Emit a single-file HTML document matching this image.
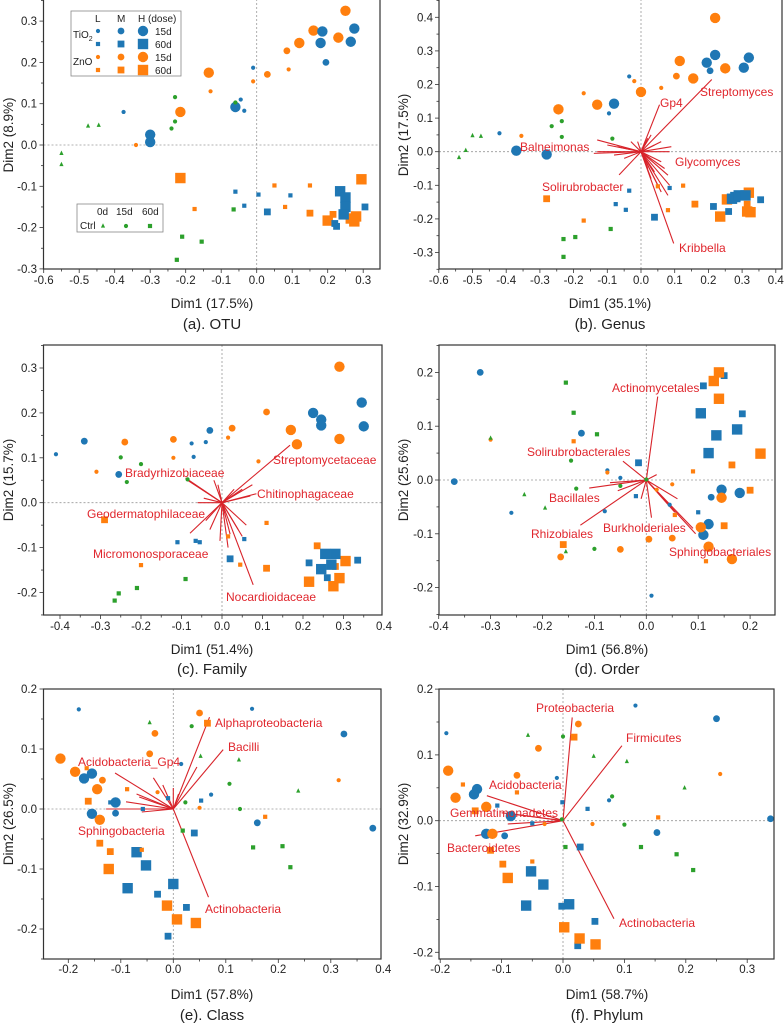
<!DOCTYPE html>
<html><head><meta charset="utf-8"><style>
html,body{margin:0;padding:0;background:#fff}
svg{display:block}
text{font-family:"Liberation Sans",sans-serif}
.tk{font-size:11.5px;fill:#222}
.ax{font-size:13.5px;fill:#222}
.ti{font-size:15px;fill:#222}
.lb{font-size:12px;fill:#e0262d}
.lg{font-size:10px;fill:#222}
</style></head><body>
<svg id="s" width="784" height="1024" viewBox="0 0 784 1024" xmlns="http://www.w3.org/2000/svg">
<g id="dyn"></g>
<!-- panel a -->
<g class="tk" text-anchor="middle">
<text x="43.7" y="284">-0.6</text><text x="79.2" y="284">-0.5</text><text x="114.7" y="284">-0.4</text><text x="150.2" y="284">-0.3</text><text x="185.7" y="284">-0.2</text><text x="221.2" y="284">-0.1</text><text x="256.7" y="284">0.0</text><text x="292.2" y="284">0.1</text><text x="327.7" y="284">0.2</text><text x="363.2" y="284">0.3</text>
<text x="438.8" y="284">-0.6</text><text x="472.5" y="284">-0.5</text><text x="506.2" y="284">-0.4</text><text x="539.9" y="284">-0.3</text><text x="573.6" y="284">-0.2</text><text x="607.3" y="284">-0.1</text><text x="641" y="284">0.0</text><text x="674.7" y="284">0.1</text><text x="708.4" y="284">0.2</text><text x="742.1" y="284">0.3</text><text x="775.8" y="284">0.4</text>
<text x="60" y="630">-0.4</text><text x="100.5" y="630">-0.3</text><text x="141" y="630">-0.2</text><text x="181.5" y="630">-0.1</text><text x="222" y="630">0.0</text><text x="262.5" y="630">0.1</text><text x="303" y="630">0.2</text><text x="343.5" y="630">0.3</text><text x="384" y="630">0.4</text>
<text x="438.7" y="630">-0.4</text><text x="490.6" y="630">-0.3</text><text x="542.5" y="630">-0.2</text><text x="594.4" y="630">-0.1</text><text x="646.3" y="630">0.0</text><text x="698.2" y="630">0.1</text><text x="750.1" y="630">0.2</text>
<text x="68.3" y="973">-0.2</text><text x="120.8" y="973">-0.1</text><text x="173.3" y="973">0.0</text><text x="225.8" y="973">0.1</text><text x="278.3" y="973">0.2</text><text x="330.8" y="973">0.3</text><text x="383.3" y="973">0.4</text>
<text x="440.2" y="973">-0.2</text><text x="501.6" y="973">-0.1</text><text x="563" y="973">0.0</text><text x="624.4" y="973">0.1</text><text x="685.8" y="973">0.2</text><text x="747.2" y="973">0.3</text>
</g>
<g class="tk" text-anchor="end">
<text x="37" y="25">0.3</text><text x="37" y="66.4">0.2</text><text x="37" y="107.7">0.1</text><text x="37" y="149">0.0</text><text x="37" y="190.3">-0.1</text><text x="37" y="231.6">-0.2</text><text x="37" y="273">-0.3</text>
<text x="433" y="21.3">0.4</text><text x="433" y="54.9">0.3</text><text x="433" y="88.5">0.2</text><text x="433" y="122.1">0.1</text><text x="433" y="155.7">0.0</text><text x="433" y="189.3">-0.1</text><text x="433" y="222.9">-0.2</text><text x="433" y="256.5">-0.3</text>
<text x="37" y="372">0.3</text><text x="37" y="416.9">0.2</text><text x="37" y="461.8">0.1</text><text x="37" y="506.7">0.0</text><text x="37" y="551.6">-0.1</text><text x="37" y="596.5">-0.2</text>
<text x="433" y="376.4">0.2</text><text x="433" y="430.2">0.1</text><text x="433" y="484">0.0</text><text x="433" y="537.8">-0.1</text><text x="433" y="591.6">-0.2</text>
<text x="37" y="693">0.2</text><text x="37" y="753">0.1</text><text x="37" y="813">0.0</text><text x="37" y="873">-0.1</text><text x="37" y="933">-0.2</text>
<text x="433" y="693.1">0.2</text><text x="433" y="758.9">0.1</text><text x="433" y="824.7">0.0</text><text x="433" y="890.5">-0.1</text><text x="433" y="956.3">-0.2</text>
</g>
<g class="ax" text-anchor="middle">
<text x="212" y="308">Dim1 (17.5%)</text><text x="610" y="308">Dim1 (35.1%)</text>
<text x="212" y="654">Dim1 (51.4%)</text><text x="607" y="654">Dim1 (56.8%)</text>
<text x="212" y="999">Dim1 (57.8%)</text><text x="607" y="999">Dim1 (58.7%)</text>
<text transform="translate(13,135) rotate(-90)">Dim2 (8.9%)</text>
<text transform="translate(408,135) rotate(-90)">Dim2 (17.5%)</text>
<text transform="translate(13,480) rotate(-90)">Dim2 (15.7%)</text>
<text transform="translate(408,480) rotate(-90)">Dim2 (25.6%)</text>
<text transform="translate(13,824) rotate(-90)">Dim2 (26.5%)</text>
<text transform="translate(408,824) rotate(-90)">Dim2 (32.9%)</text>
</g>
<g class="ti" text-anchor="middle">
<text x="212" y="329">(a). OTU</text><text x="610" y="329">(b). Genus</text>
<text x="212" y="674">(c). Family</text><text x="607" y="674">(d). Order</text>
<text x="212" y="1020">(e). Class</text><text x="607" y="1020">(f). Phylum</text>
</g>
<g class="lb">
<text x="700" y="96">Streptomyces</text><text x="660" y="107">Gp4</text><text x="520" y="151">Balneimonas</text><text x="675" y="166">Glycomyces</text><text x="542" y="191">Solirubrobacter</text><text x="679" y="252">Kribbella</text>
<text x="273" y="464">Streptomycetaceae</text><text x="125" y="477">Bradyrhizobiaceae</text><text x="257" y="498">Chitinophagaceae</text><text x="87" y="518">Geodermatophilaceae</text><text x="93" y="558">Micromonosporaceae</text><text x="226" y="601">Nocardioidaceae</text>
<text x="612" y="392">Actinomycetales</text><text x="527" y="456">Solirubrobacterales</text><text x="549" y="502">Bacillales</text><text x="531" y="538">Rhizobiales</text><text x="603" y="532">Burkholderiales</text><text x="669" y="556">Sphingobacteriales</text>
<text x="215" y="727">Alphaproteobacteria</text><text x="228" y="751">Bacilli</text><text x="78" y="766">Acidobacteria_Gp4</text><text x="78" y="835">Sphingobacteria</text><text x="205" y="913">Actinobacteria</text>
<text x="536" y="712">Proteobacteria</text><text x="626" y="742">Firmicutes</text><text x="489" y="789">Acidobacteria</text><text x="450" y="817">Gemmatimonadetes</text><text x="447" y="852">Bacteroidetes</text><text x="619" y="927">Actinobacteria</text>
</g>
<rect x="71" y="11" width="110" height="65" fill="#fff" stroke="#888" stroke-width="0.8"/>
<g class="lg">
<text x="95" y="22">L</text><text x="117" y="22">M</text><text x="138" y="22">H (dose)</text>
<text x="73" y="38">TiO<tspan font-size="7" dy="3">2</tspan></text><text x="73" y="65">ZnO</text>
<text x="155" y="35">15d</text><text x="155" y="48">60d</text><text x="155" y="61">15d</text><text x="155" y="74">60d</text>
</g>
<rect x="77" y="204" width="86" height="28" fill="#fff" stroke="#888" stroke-width="0.8"/>
<g class="lg"><text x="97" y="215">0d</text><text x="116" y="215">15d</text><text x="142" y="215">60d</text><text x="80" y="229">Ctrl</text></g>
<g id="leg"></g>
</svg>
<script>
(function(){
var NS="http://www.w3.org/2000/svg",g=document.getElementById('dyn');
function el(t,a,p){var e=document.createElementNS(NS,t);for(var k in a)e.setAttribute(k,a[k]);(p||g).appendChild(e);return e;}
var C={b:'#1f77b4',o:'#ff7f0e',g:'#2ca02c'};
var R=[0,2.1,3.4,5.2];
function mk(px,py,t,p){var c=C[t[0]],s=t[1],r=R[+t[2]];
 if(s=='c')el('circle',{cx:px,cy:py,r:r,fill:c},p);
 else if(s=='s')el('rect',{x:px-r,y:py-r,width:2*r,height:2*r,fill:c},p);
 else el('polygon',{points:(px)+','+(py-r-0.6)+' '+(px-r)+','+(py+r*0.8)+' '+(px+r)+','+(py+r*0.8),fill:c},p);}
function panel(P){
 var X=function(v){return P.x0+v*P.sx},Y=function(v){return P.y0-v*P.sy};
 // zero lines
 el('line',{x1:P.L,x2:P.R,y1:P.y0,y2:P.y0,stroke:'#999','stroke-dasharray':'2,2','stroke-width':0.8});
 el('line',{x1:P.x0,x2:P.x0,y1:P.T,y2:P.B,stroke:'#999','stroke-dasharray':'2,2','stroke-width':0.8});
 // ticks
 var i,v;
 for(i=-20;i<=20;i++){v=i*0.05;var px=X(v);if(px<P.L-0.5||px>P.R+0.5)continue;var maj=(i%2==0);
  el('line',{x1:px,x2:px,y1:P.B,y2:P.B+(maj?4:2.5),stroke:'#333','stroke-width':0.8});}
 for(i=-20;i<=20;i++){v=i*0.05;var py=Y(v);if(py<P.T-0.5||py>P.B+0.5)continue;var maj=(i%2==0);
  el('line',{x1:P.L,x2:P.L-(maj?4:2.5),y1:py,y2:py,stroke:'#333','stroke-width':0.8});}
 // arrows
 (P.ar||[]).forEach(function(a){el('line',{x1:P.x0,y1:P.y0,x2:X(a[0]),y2:Y(a[1]),stroke:'#d8232a','stroke-width':1.1});});
 P.pts.forEach(function(p){mk(X(p[0]),Y(p[1]),p[2]);});
 el('rect',{x:P.L,y:P.T,width:P.R-P.L,height:P.B-P.T,fill:'none',stroke:'#333','stroke-width':1.2});
}
function pts(s){return s.trim().split(/\s+/).map(function(q){var a=q.split(',');return [+a[0],+a[1],a[2]];});}
function ars(s){return s.trim().split(/\s+/).map(function(q){var a=q.split(',');return [+a[0],+a[1]];});}
panel({L:43.5,R:380,T:-1,B:269,x0:256.7,sx:355,y0:145,sy:413,pts:pts(
"0.25,0.325,oc3 0.16,0.277,oc3 0.12,0.247,oc3 0.23,0.26,oc3 -0.135,0.175,oc3 0.03,0.171,oc2 -0.215,0.08,oc3 0.085,0.228,oc2 0.09,0.183,oc1 -0.01,0.154,oc1 -0.13,0.13,oc1 -0.34,0.0,oc1 "+
"0.185,0.275,bc3 0.18,0.247,bc3 0.275,0.282,bc3 0.265,0.25,bc3 0.195,0.2,bc2 -0.06,0.092,bc3 -0.3,0.025,bc3 -0.3,0.007,bc3 -0.375,0.08,bc1 -0.045,0.11,bc1 -0.035,0.083,bc1 -0.01,0.187,bc1 "+
"-0.23,0.116,gc1 -0.23,0.057,gc1 -0.24,0.04,gc1 -0.06,0.103,gc1 -0.475,0.046,gt1 -0.445,0.048,gt1 -0.55,-0.02,gt1 -0.55,-0.047,gt1 "+
"-0.215,-0.08,os3 0.295,-0.083,os3 0.2,-0.183,os3 0.265,-0.178,os3 0.28,-0.173,os3 0.275,-0.185,os3 0.15,-0.165,os2 0.215,-0.168,os2 -0.175,-0.155,os1 0.05,-0.098,os1 0.15,-0.098,os1 0.08,-0.15,os1 "+
"0.235,-0.112,bs3 0.25,-0.127,bs3 0.25,-0.15,bs3 0.245,-0.168,bs3 0.22,-0.19,bs2 0.225,-0.197,bs2 0.305,-0.15,bs2 0.03,-0.162,bs2 -0.06,-0.113,bs1 0.005,-0.12,bs1 0.095,-0.122,bs1 -0.035,-0.147,bs1 "+
"-0.065,-0.156,gs1 -0.21,-0.222,gs1 -0.155,-0.234,gs1 -0.225,-0.278,gs1")});
panel({L:439,R:782,T:-1,B:269,x0:641,sx:337,y0:151.7,sy:336,ar:ars(
"0.21,0.215 0.055,0.14 -0.13,0.035 -0.13,0.0 -0.14,-0.005 -0.065,-0.069 0.09,0.015 0.085,0.0 0.097,-0.273 0.08,-0.07 0.08,-0.13 0.085,-0.1 0.05,-0.1 0.06,-0.12 0.02,0.04 0.03,0.05 -0.01,0.03 -0.03,0.03 0.06,-0.03 0.04,-0.06 0.04,0.02 -0.07,0.015 -0.05,-0.02 0.03,-0.08 0.06,0.03 -0.1,0.02 -0.08,-0.01 0.02,-0.05 0.07,-0.05"),pts:pts(
"0.22,0.398,oc3 0.115,0.27,oc3 0.155,0.218,oc3 0.25,0.248,oc3 -0.245,0.126,oc3 -0.13,0.14,oc3 0.0,0.178,oc3 0.105,0.225,oc2 -0.17,0.174,oc1 -0.02,0.21,oc1 0.06,0.19,oc1 -0.355,0.047,oc1 "+
"0.195,0.265,bc3 0.22,0.288,bc3 0.32,0.28,bc3 0.305,0.25,bc3 -0.37,0.003,bc3 -0.28,-0.008,bc3 -0.08,0.143,bc3 0.205,0.241,bc2 -0.035,0.224,bc1 -0.095,0.114,bc1 -0.42,0.055,bc1 -0.075,0.139,bc1 "+
"-0.265,0.076,gc1 -0.235,0.091,gc1 -0.235,0.044,gc1 -0.085,0.039,gc1 -0.5,0.048,gt1 -0.475,0.046,gt1 -0.52,0.004,gt1 -0.54,-0.017,gt1 "+
"-0.28,-0.14,os2 0.16,-0.156,os2 0.235,-0.193,os3 0.255,-0.142,os3 0.32,-0.122,os3 0.315,-0.178,os3 0.325,-0.18,os3 0.315,-0.156,os2 0.05,-0.103,os1 0.125,-0.101,os1 0.08,-0.174,os1 -0.17,-0.205,os1 "+
"0.27,-0.14,bs3 0.28,-0.135,bs3 0.29,-0.13,bs3 0.31,-0.13,bs3 0.355,-0.143,bs2 0.215,-0.163,bs2 0.26,-0.178,bs2 0.04,-0.195,bs2 -0.035,-0.116,bs1 -0.075,-0.156,bs1 -0.045,-0.173,bs1 0.085,-0.108,bs1 "+
"-0.23,-0.26,gs1 -0.195,-0.254,gs1 -0.09,-0.23,gs1 -0.23,-0.313,gs1")});
panel({L:43.5,R:382,T:345,B:615,x0:222,sx:405,y0:502.7,sy:449,ar:ars(
"0.168,0.128 0.085,0.02 0.075,0.04 -0.079,-0.068 -0.09,0.055 -0.085,0.05 -0.05,0.03 -0.03,-0.06 0.05,-0.075 0.04,-0.06 0.077,-0.183 0.015,-0.1 -0.005,-0.085 0.06,-0.05 0.07,0.015 -0.045,0.01 0.03,0.03 -0.01,0.04 -0.06,0.0 -0.04,-0.04 0.02,-0.07 -0.02,0.05 0.05,0.03"),pts:pts(
"0.29,0.303,oc3 0.17,0.162,oc3 0.29,0.142,oc3 0.185,0.13,oc3 -0.24,0.135,oc2 -0.12,0.141,oc2 0.025,0.166,oc2 0.11,0.202,oc2 0.015,0.145,oc1 -0.12,0.1,oc1 -0.31,0.069,oc1 0.09,0.092,oc1 "+
"0.225,0.2,bc3 0.245,0.185,bc3 0.245,0.172,bc3 0.345,0.223,bc3 0.35,0.17,bc3 -0.34,0.137,bc2 -0.255,0.063,bc2 -0.03,0.161,bc2 -0.41,0.108,bc1 -0.075,0.132,bc1 -0.04,0.135,bc1 -0.07,0.102,bc1 "+
"-0.25,0.101,gc1 -0.2,0.086,gc1 -0.235,0.046,gc1 -0.085,0.052,gc1 "+
"-0.29,-0.038,os2 0.215,-0.176,os3 0.275,-0.186,os3 0.29,-0.168,os3 0.305,-0.13,os3 0.11,-0.146,os2 0.28,-0.142,os2 0.235,-0.096,os2 0.11,-0.045,os1 0.015,-0.075,os1 0.045,-0.138,os1 -0.2,-0.139,os1 "+
"0.255,-0.114,bs3 0.28,-0.114,bs3 0.27,-0.138,bs3 0.245,-0.148,bs3 0.215,-0.134,bs2 0.26,-0.167,bs2 0.335,-0.128,bs2 0.02,-0.125,bs2 -0.11,-0.088,bs1 -0.065,-0.085,bs1 -0.055,-0.088,bs1 0.055,-0.081,bs1 "+
"-0.09,-0.17,gs1 -0.21,-0.19,gs1 -0.255,-0.202,gs1 -0.265,-0.218,gs1")});
panel({L:439,R:775,T:345,B:615,x0:646.3,sx:519,y0:480,sy:538,ar:ars(
"0.022,0.155 -0.045,0.035 -0.11,-0.015 -0.055,-0.02 -0.127,-0.084 0.01,-0.07 -0.01,-0.035 0.095,-0.1 0.06,-0.035 0.055,-0.06 0.09,-0.09 0.02,0.01 -0.07,-0.005"),pts:pts(
"-0.32,0.2,bc2 -0.125,0.087,bc2 -0.37,-0.003,bc2 0.145,-0.018,bc3 0.18,-0.024,bc3 0.12,-0.082,bc3 0.11,-0.102,bc3 0.125,-0.032,bc2 -0.075,0.018,bc1 -0.05,0.004,bc1 -0.26,-0.061,bc1 -0.08,-0.058,bc1 0.045,-0.046,bc1 0.01,-0.215,bc1 "+
"0.145,-0.033,oc3 0.105,-0.088,oc3 0.12,-0.124,oc3 0.165,-0.147,oc3 -0.165,-0.143,oc2 -0.05,-0.129,oc2 0.005,-0.11,oc2 0.05,-0.108,oc2 -0.3,0.075,oc1 -0.075,0.014,oc1 0.02,-0.018,oc1 0.05,-0.008,oc1 "+
"-0.145,0.036,gc1 -0.135,-0.016,gc1 -0.05,-0.011,gc1 -0.1,-0.128,gc1 -0.3,0.078,gt1 -0.235,-0.027,gt1 -0.195,-0.052,gt1 -0.155,-0.133,gt1 0.0,0.001,gc1 "+
"0.105,0.124,bs3 0.135,0.083,bs3 0.12,0.05,bs3 0.175,0.094,bs3 0.11,0.175,bs2 0.15,0.194,bs2 0.185,0.123,bs2 -0.015,0.032,bs2 -0.02,-0.03,bs1 0.1,-0.06,bs1 "+
"0.14,0.2,os3 0.13,0.184,os3 0.14,0.151,os3 0.22,0.049,os3 0.165,0.028,os2 0.2,-0.019,os2 0.15,-0.085,os2 -0.16,-0.12,os2 -0.14,0.072,os1 0.09,0.016,os1 0.055,-0.065,os1 0.115,-0.151,os1 "+
"-0.155,0.181,gs1 -0.14,0.125,gs1 -0.095,0.085,gs1")});
panel({L:43.5,R:381,T:689,B:959,x0:173.3,sx:525,y0:809,sy:600,ar:ars(
"0.069,0.153 0.095,0.099 -0.111,0.06 -0.038,0.052 -0.07,0.025 -0.065,0.02 -0.09,0.012 -0.128,0.0 -0.06,-0.005 0.067,-0.147 0.0,0.035 0.01,0.025 0.045,0.07 -0.02,0.04"),pts:pts(
"-0.18,0.166,bc1 0.15,0.167,bc1 0.015,0.075,bc1 0.072,0.024,bc1 -0.155,0.059,bc3 -0.17,0.051,bc3 -0.11,0.011,bc3 -0.155,-0.008,bc3 -0.11,-0.007,bc2 0.16,-0.023,bc2 0.325,0.125,bc2 0.38,-0.032,bc2 "+
"-0.215,0.084,oc3 -0.187,0.062,oc3 -0.145,0.033,oc3 -0.14,-0.018,oc3 -0.135,0.048,oc2 -0.045,0.092,oc2 -0.035,0.126,oc2 0.05,0.16,oc2 -0.03,0.028,oc1 0.05,0.002,oc1 0.315,0.048,oc1 "+
"0.035,0.138,gc1 0.023,0.011,gc1 0.107,0.042,gc1 0.127,0.0,gc1 -0.045,0.144,gt1 0.052,0.088,gt1 0.125,0.082,gt1 0.238,0.03,gt1 "+
"-0.07,-0.072,bs3 -0.052,-0.094,bs3 -0.087,-0.132,bs3 0.0,-0.125,bs3 -0.03,-0.142,bs2 0.025,-0.164,bs2 0.04,-0.04,bs2 -0.01,-0.212,bs2 -0.12,0.011,bs1 -0.058,0.0,bs1 -0.01,0.018,bs1 0.053,0.014,bs1 "+
"-0.123,-0.1,os3 -0.012,-0.161,os3 0.007,-0.184,os3 0.043,-0.19,os3 0.065,0.143,os2 -0.162,0.013,os2 -0.14,-0.057,os2 -0.12,-0.071,os2 -0.088,0.033,os1 -0.06,-0.068,os1 0.175,-0.013,os1 -0.165,0.068,os1 "+
"0.018,-0.036,gs1 0.152,-0.064,gs1 0.208,-0.062,gs1 0.223,-0.097,gs1")});
panel({L:439,R:774,T:689,B:959,x0:563,sx:614,y0:820.7,sy:658,ar:ars(
"0.015,0.157 0.096,0.114 -0.124,0.038 -0.08,0.01 -0.1,0.012 -0.143,-0.023 -0.09,-0.005 0.083,-0.149"),pts:pts(
"-0.19,0.133,bc1 0.118,0.175,bc1 -0.01,0.065,bc1 0.075,0.031,bc1 -0.14,0.048,bc3 -0.145,0.04,bc3 -0.125,-0.02,bc3 -0.085,0.007,bc3 -0.095,-0.023,bc2 0.25,0.155,bc2 0.153,-0.018,bc2 0.338,0.003,bc2 "+
"-0.187,0.076,oc3 -0.175,0.035,oc3 -0.125,0.021,oc3 -0.115,-0.02,oc3 -0.04,0.11,oc2 -0.075,0.069,oc2 0.025,0.147,oc2 0.048,-0.005,oc1 0.256,0.071,oc1 -0.03,-0.005,oc1 "+
"0.0,0.128,gc1 0.08,0.037,gc1 0.1,-0.006,gc1 -0.002,0.002,gc1 -0.057,0.13,gt1 0.05,0.098,gt1 0.104,0.09,gt1 0.198,0.05,gt1 "+
"-0.052,-0.077,bs3 -0.032,-0.097,bs3 -0.06,-0.129,bs3 0.01,-0.127,bs3 0.028,-0.04,bs2 0.052,-0.153,bs2 0.024,-0.19,bs2 -0.002,-0.13,bs2 -0.107,0.023,bs1 -0.05,-0.004,bs1 0.04,0.018,bs1 -0.001,0.028,bs1 "+
"-0.09,-0.087,os3 0.002,-0.162,os3 0.027,-0.179,os3 0.053,-0.188,os3 0.018,0.127,os2 -0.143,0.015,os2 -0.118,-0.045,os2 -0.098,-0.066,os2 -0.163,0.055,os1 -0.075,0.043,os1 -0.05,-0.062,os1 0.155,0.005,os1 "+
"0.004,-0.04,gs1 0.127,-0.04,gs1 0.185,-0.051,gs1 0.212,-0.075,gs1")});
var lg=document.getElementById('leg');
[[31,'c','b'],[44,'s','b'],[57,'c','o'],[70,'s','o']].forEach(function(r){
 mk(98,r[0],r[2]+r[1]+'1',lg);mk(121,r[0],r[2]+r[1]+'2',lg);mk(143,r[0],r[2]+r[1]+'3',lg);});
mk(103,226,'gt1',lg);mk(126,226,'gc1',lg);mk(150,226,'gs1',lg);
})();
</script>
</body></html>
